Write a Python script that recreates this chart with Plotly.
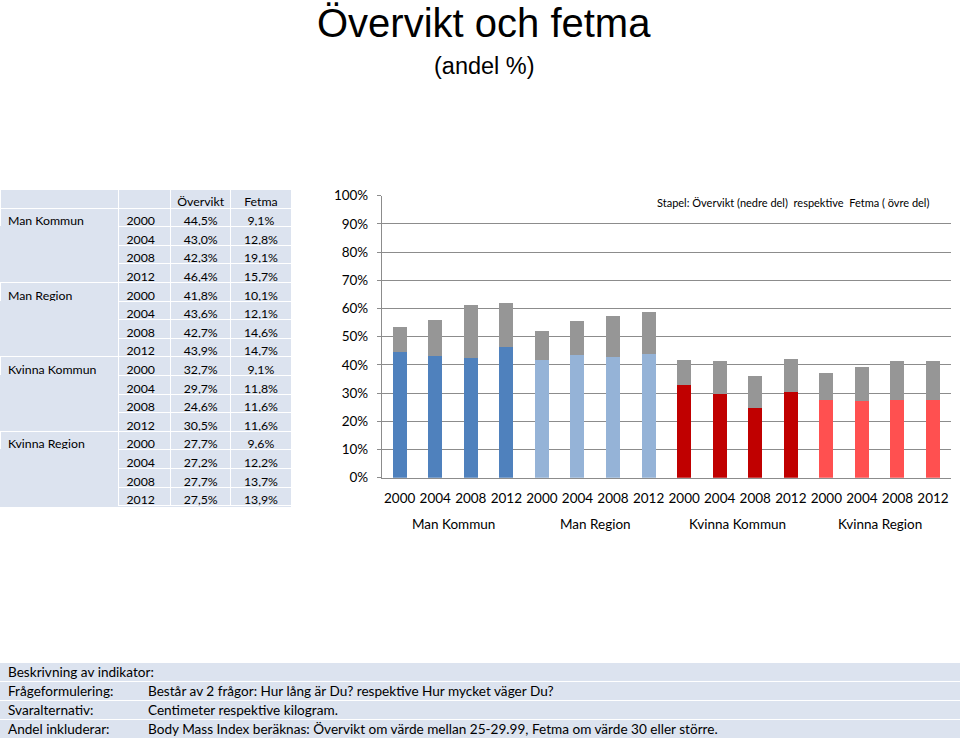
import plotly.graph_objects as go

# ---------------- data ----------------
groups = ["Man Kommun", "Man Region", "Kvinna Kommun", "Kvinna Region"]
years = ["2000", "2004", "2008", "2012"]
overvikt = [44.5, 43.0, 42.3, 46.4,
            41.8, 43.6, 42.7, 43.9,
            32.7, 29.7, 24.6, 30.5,
            27.7, 27.2, 27.7, 27.5]
fetma = [9.1, 12.8, 19.1, 15.7,
         10.1, 12.1, 14.6, 14.7,
         9.1, 11.8, 11.6, 11.6,
         9.6, 12.2, 13.7, 13.9]
y_ticks = list(range(0, 101, 10))
y_tick_labels = [f"{v}%" for v in y_ticks]

title_text = "Övervikt och fetma"
subtitle_text = "(andel %)"
note_text = "Stapel: Övervikt (nedre del)  respektive  Fetma ( övre del)"
table_header = ["", "", "Övervikt", "Fetma"]
desc_title = "Beskrivning av indikator:"
desc_labels = ["Frågeformulering:", "Svaralternativ:", "Andel inkluderar:"]
desc_texts = ["Består av 2 frågor: Hur lång är Du? respektive Hur mycket väger Du?",
              "Centimeter respektive kilogram.",
              "Body Mass Index beräknas: Övervikt om värde mellan 25-29.99, Fetma om värde 30 eller större."]

# ---------------- styles ----------------
group_colors = ["#4F81BD", "#95B3D7", "#C00000", "#FF5050"]
fetma_color = "#969696"
grid_color = "#8C8C8C"
cell_fill = "#DCE3EF"
FONT = "Lato"
W, H = 960, 740
TABLE_TOP, TABLE_BOTTOM, TABLE_RIGHT = 189, 507, 291


def px_x(x):
    return x / W


def px_y(y):
    return 1 - y / H


n_years = len(years)
xs = list(range(len(groups) * n_years))
bar_colors = [group_colors[i // n_years] for i in xs]
tick_text = [years[i % n_years] for i in xs]

fig = go.Figure()
fig.add_trace(go.Bar(x=xs, y=overvikt, marker=dict(color=bar_colors, line=dict(width=0)),
                     name="Övervikt", width=0.394))
fig.add_trace(go.Bar(x=xs, y=fetma, marker=dict(color=fetma_color, line=dict(width=0)),
                     name="Fetma", width=0.394))

# ---------------- table ----------------
col_group = []
col_year = []
for gi, g in enumerate(groups):
    for yi, yr in enumerate(years):
        col_group.append(g if yi == 0 else "")
        col_year.append(yr)


def fmt(v):
    return f"{v:.1f}%".replace(".", ",")


col_ov = [fmt(v) for v in overvikt]
col_fe = [fmt(v) for v in fetma]
group_line = ["white" if (i % n_years) == 0 else cell_fill for i in range(len(col_group))]

fig.add_trace(go.Table(
    domain=dict(x=[0, px_x(TABLE_RIGHT)], y=[px_y(TABLE_BOTTOM), px_y(TABLE_TOP)]),
    columnwidth=[118, 52, 60, 60],
    header=dict(values=table_header, fill_color="rgba(0,0,0,0)",
                line=dict(color="white", width=1),
                align=["left", "left", "center", "center"],
                font=dict(family=FONT, size=12.3, color="black"), height=19),
    cells=dict(values=[col_group, col_year, col_ov, col_fe], fill_color="rgba(0,0,0,0)",
               line=dict(color=[group_line, "white", "white", "white"], width=1),
               align=["left", "left", "center", "center"],
               font=dict(family=FONT, size=12.3, color="black"), height=18.6),
))

shapes = []
# table background (under the table's white grid)
shapes.append(dict(type="rect", xref="paper", yref="paper", x0=0, x1=px_x(TABLE_RIGHT),
                   y0=px_y(TABLE_BOTTOM), y1=px_y(TABLE_TOP), fillcolor=cell_fill,
                   line=dict(width=0), layer="below"))

# ---------------- annotations ----------------
ann = []
ann.append(dict(text=title_text, x=px_x(484), y=px_y(23), xref="paper", yref="paper",
                showarrow=False, font=dict(family="Liberation Sans", size=40, color="black"),
                xanchor="center", yanchor="middle"))
ann.append(dict(text=subtitle_text, x=px_x(484), y=px_y(66), xref="paper", yref="paper",
                showarrow=False, font=dict(family="Liberation Sans", size=23.5, color="black"),
                xanchor="center", yanchor="middle"))
ann.append(dict(text=note_text, x=px_x(655), y=px_y(202), xref="paper", yref="paper",
                showarrow=False, font=dict(family=FONT, size=11, color="black"),
                xanchor="left", yanchor="middle"))
for gi, g in enumerate(groups):
    ann.append(dict(text=g, x=gi * n_years + (n_years - 1) / 2, y=px_y(524), xref="x", yref="paper",
                    showarrow=False, font=dict(family=FONT, size=13.5, color="black"),
                    xanchor="center", yanchor="middle"))

# description block
row_tops = [663, 682, 701, 720]
row_h = 18
for t in row_tops:
    shapes.append(dict(type="rect", xref="paper", yref="paper", x0=0, x1=1,
                       y0=px_y(t + row_h), y1=px_y(t), fillcolor=cell_fill,
                       line=dict(width=0), layer="below"))
ann.append(dict(text=desc_title, x=px_x(6), y=px_y(row_tops[0] + row_h / 2), xref="paper", yref="paper",
                showarrow=False, font=dict(family=FONT, size=13.6, color="black"),
                xanchor="left", yanchor="middle"))
for i, (lab, txt) in enumerate(zip(desc_labels, desc_texts)):
    yc = px_y(row_tops[i + 1] + row_h / 2)
    ann.append(dict(text=lab, x=px_x(6), y=yc, xref="paper", yref="paper",
                    showarrow=False, font=dict(family=FONT, size=13.6, color="black"),
                    xanchor="left", yanchor="middle"))
    ann.append(dict(text=txt, x=px_x(146), y=yc, xref="paper", yref="paper",
                    showarrow=False, font=dict(family=FONT, size=13.6, color="black"),
                    xanchor="left", yanchor="middle"))

fig.update_layout(
    width=W, height=H, margin=dict(l=0, r=0, t=0, b=0, autoexpand=False),
    paper_bgcolor="white", plot_bgcolor="rgba(0,0,0,0)",
    barmode="stack", showlegend=False,
    annotations=ann, shapes=shapes,
    xaxis=dict(domain=[px_x(381.9), px_x(950.8)], range=[-0.5, len(xs) - 0.5],
               tickmode="array", tickvals=xs, ticktext=tick_text,
               showline=True, linecolor=grid_color, linewidth=1, ticks="",
               showgrid=False, zeroline=False, ticklabelstandoff=8,
               tickfont=dict(family=FONT, size=13.5, color="black"), fixedrange=True),
    yaxis=dict(domain=[px_y(477.7), px_y(195.7)], range=[0, 100],
               tickmode="array", tickvals=y_ticks, ticktext=y_tick_labels,
               showline=True, linecolor=grid_color, linewidth=1,
               ticks="outside", ticklen=4, tickcolor=grid_color,
               showgrid=True, gridcolor=grid_color, gridwidth=1, zeroline=False,
               ticklabelstandoff=6,
               tickfont=dict(family=FONT, size=13.5, color="black"), fixedrange=True),
)

fig.write_html("out.html", post_script="document.body.style.margin='0';",
               config={"displayModeBar": False})
